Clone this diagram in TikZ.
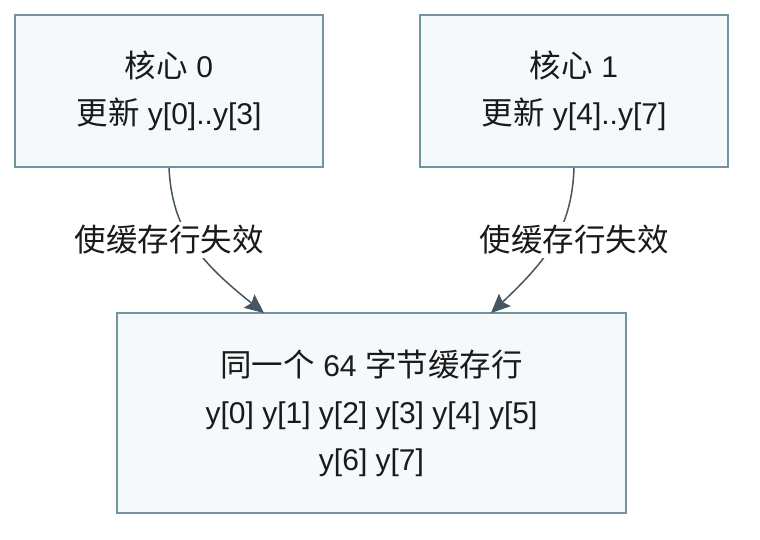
\documentclass[tikz,border=0pt]{standalone}
\usepackage{fontspec}
\setmainfont{Liberation Sans}
\newfontfamily\cjk[Scale=1.05]{Noto Sans CJK SC}
\usetikzlibrary{arrows.meta}

\definecolor{boxfill}{HTML}{F6F9FB}
\definecolor{boxline}{HTML}{7293A0}
\definecolor{arrowc}{HTML}{46555F}
\definecolor{textc}{HTML}{1A1A1A}

\begin{document}
\begin{tikzpicture}[x=1pt, y=-1pt,
	corebox/.style={draw=boxline, fill=boxfill, line width=1.6pt, align=center,
		text=textc, font=\fontsize{30}{47}\selectfont, inner sep=0pt},
	invline/.style={draw=arrowc, line width=1.5pt, -{Stealth[length=19pt, width=17pt, inset=3pt]}},
	invlabel/.style={fill=white, text=textc, font=\fontsize{30}{36}\selectfont\cjk, inner sep=3pt}]
	\useasboundingbox (0, 0) rectangle (760, 540);

	\node[corebox, minimum width=308, minimum height=152] (core0) at (169, 91) {{\cjk 核心} 0\\{\cjk 更新} y[0]..y[3]};
	\node[corebox, minimum width=308, minimum height=152] (core1) at (574, 91) {{\cjk 核心} 1\\{\cjk 更新} y[4]..y[7]};

	\node[corebox, minimum width=509, minimum height=200] (line) at (371.5, 413) {{\cjk 同一个} 64 {\cjk 字节缓存行}\\y[0] y[1] y[2] y[3] y[4] y[5]\\y[6] y[7]};

	\coordinate (hit0) at (264, 313);
	\coordinate (hit1) at (491, 313);

	\draw[invline] (core0.south) .. controls (172, 230) and (200, 262) .. (hit0);
	\draw[invline] (core1.south) .. controls (572, 230) and (545, 262) .. (hit1);

	\node[invlabel] (inv0) at (169, 240) {使缓存行失效};
	\node[invlabel] (inv1) at (574, 240) {使缓存行失效};
\end{tikzpicture}
\end{document}
